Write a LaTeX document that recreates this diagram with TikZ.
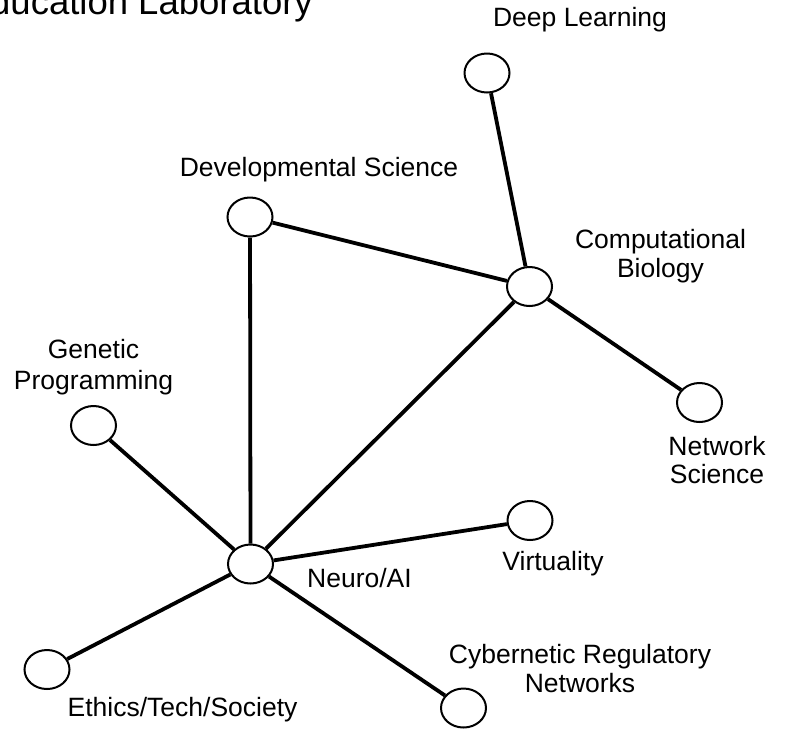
\documentclass[tikz,border=0pt]{standalone}
\usepackage{fontspec}
\setmainfont{Liberation Sans}
\usetikzlibrary{shapes.geometric}
\begin{document}
\begin{tikzpicture}[x=1pt,y=-1pt,
  topic/.style={ellipse,draw,line width=2pt,fill=white,minimum width=45pt,minimum height=39pt,inner sep=0pt},
  link/.style={line width=3.8pt},
  lbl/.style={inner sep=0pt,align=center,font=\fontsize{26.5}{29}\selectfont,anchor=base}]
\useasboundingbox (0,0) rectangle (786,729);
\clip (0,0) rectangle (786,729);
\node[inner sep=0pt,anchor=base east,font=\fontsize{36.5}{40}\selectfont] (title) at (313,14) {Education Laboratory};
% circles
\node[topic] (deep) at (487,73) {};
\node[topic] (comp) at (529.5,286.5) {};
\node[topic] (dev) at (250,217) {};
\node[topic] (gen) at (93.5,425.5) {};
\node[topic] (net) at (699.5,402.5) {};
\node[topic] (virt) at (530,520.5) {};
\node[topic] (neuro) at (250.5,564) {};
\node[topic] (eth) at (47,669.5) {};
\node[topic] (cyb) at (463.5,708) {};
% links
\draw[link] (deep) -- (comp);
\draw[link] (dev) -- (comp);
\draw[link] (comp) -- (net);
\draw[link] (neuro) -- (dev);
\draw[link] (neuro) -- (comp);
\draw[link] (neuro) -- (gen);
\draw[link] (neuro) -- (virt);
\draw[link] (neuro) -- (eth);
\draw[link] (neuro) -- (cyb);
% labels
\node[lbl] (deepl) at (580,26.5) {Deep Learning};
\node[lbl] (compl) at (660.5,277) {Computational\\Biology};
\node[lbl] (devl) at (319,176) {Developmental Science};
\node[lbl,font=\fontsize{26.5}{31}\selectfont] (genl) at (93.5,389) {Genetic\\Programming};
\node[lbl,font=\fontsize{26.5}{28}\selectfont] (netl) at (717,483) {Network\\Science};
\node[lbl] (virtl) at (553,570) {Virtuality};
\node[lbl] (neurol) at (359.5,587.5) {Neuro/AI};
\node[lbl] (ethl) at (182.5,716) {Ethics/Tech/Society};
\node[lbl] (cybl) at (580,692) {Cybernetic Regulatory\\Networks};
\end{tikzpicture}
\end{document}
